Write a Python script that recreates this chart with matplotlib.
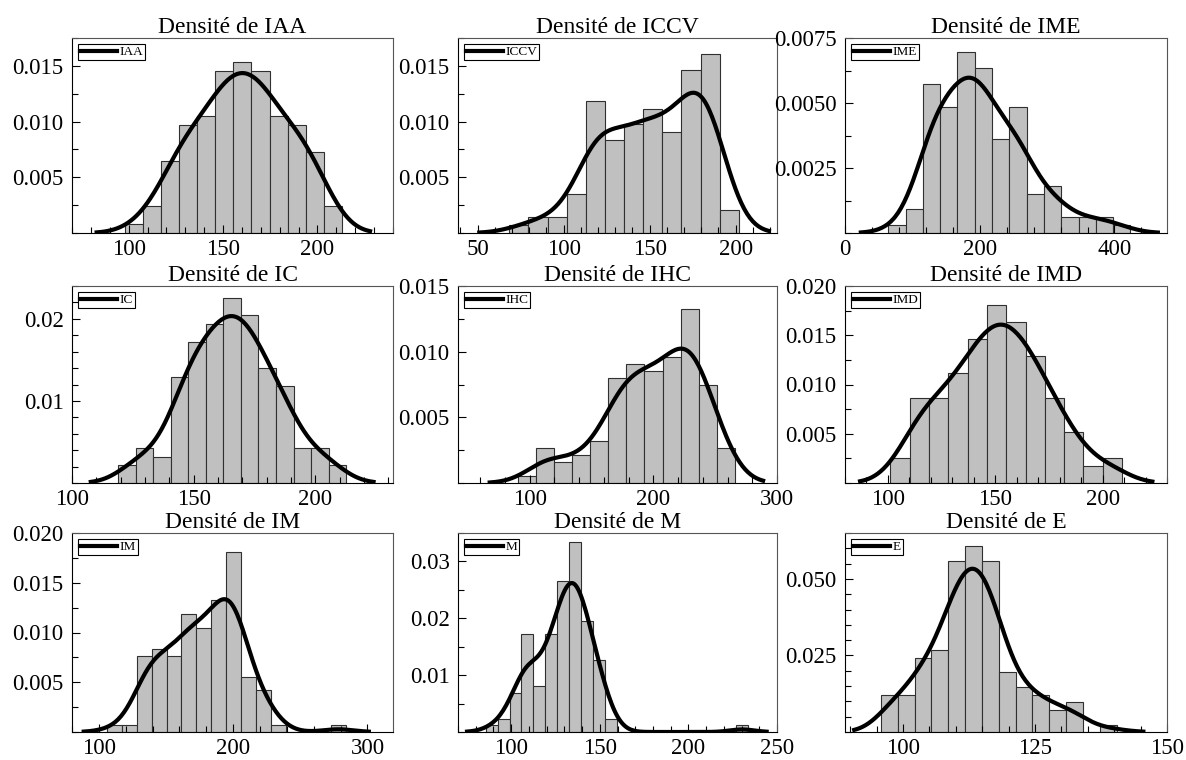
import numpy as np
import matplotlib
matplotlib.use('Agg')
import matplotlib.pyplot as plt
from matplotlib.ticker import MultipleLocator, FixedLocator
import seaborn as sns

plt.rcParams['font.family'] = ['Liberation Serif', 'DejaVu Serif']

# variables (ordre des panneaux)
names = ['IAA', 'ICCV', 'IME', 'IC', 'IHC', 'IMD', 'IM', 'M', 'E']

counts_IAA = [1, 3, 8, 12, 13, 18, 19, 18, 13, 12, 9, 3]
counts_ICCV = [1, 2, 2, 5, 17, 12, 14, 16, 13, 21, 23, 3]
counts_IME = [1, 3, 19, 16, 23, 21, 12, 16, 5, 6, 2, 2, 2, 1]
counts_IC = [2, 4, 3, 12, 16, 18, 21, 19, 13, 11, 4, 4, 2]
counts_IHC = [1, 5, 3, 4, 6, 15, 17, 16, 18, 25, 14, 5]
counts_IMD = [3, 10, 10, 13, 17, 21, 19, 15, 10, 6, 2, 3]
counts_IM = [1, 1, 11, 12, 11, 17, 15, 19, 26, 8, 6, 1, 0, 0, 0, 1]
counts_M = [1, 2, 6, 15, 7, 15, 23, 29, 17, 11, 2,
            0, 0, 0, 0, 0, 0, 0, 0, 0, 0, 1]
counts_E = [5, 5, 10, 11, 23, 25, 23, 8, 6, 5, 3, 4, 0, 1]
counts = [counts_IAA, counts_ICCV, counts_IME, counts_IC, counts_IHC,
          counts_IMD, counts_IM, counts_M, counts_E]

# début de la première classe et largeur des classes
bin_start = [98.0, 68.4, 64.2, 119.0, 90.6, 101.1, 105.9, 85.6, 95.8]
bin_width = [9.575, 11.12, 25.68, 7.21, 14.6, 9.0, 11.12, 6.73, 3.19]

# axes
xlims = [(70, 240), (38.6, 224), (0, 478), (100, 232), (42, 300),
         (80, 230), (80, 319), (70, 250), (89, 150)]
ytops = [0.0175, 0.0175, 0.0075, 0.024, 0.015, 0.020, 0.020, 0.035, 0.065]
x_major = [50, 50, 200, 50, 100, 50, 100, 50, 25]
y_major = [0.005, 0.005, 0.0025, 0.01, 0.005, 0.005, 0.005, 0.01, 0.025]
y_minor = [0.0025, 0.0025, 0.00125, 0.002, 0.0025, 0.0025, 0.0025, 0.005, 0.005]

# position des axes en pixels
W, H = 1186, 760
col_left = [72, 458, 845]
col_right = [393, 777, 1167]
row_top = [38, 286, 533]
row_bottom = [233, 483, 732]

fig = plt.figure(figsize=(W / 100, H / 100), dpi=100)

for k, name in enumerate(names):
    r, c = divmod(k, 3)
    l, rr = col_left[c], col_right[c]
    t, b = row_top[r], row_bottom[r]
    ax = fig.add_axes([l / W, 1 - b / H, (rr - l) / W, (b - t) / H])

    cnt = np.array(counts[k])
    edges = bin_start[k] + bin_width[k] * np.arange(len(cnt) + 1)
    centres = (edges[:-1] + edges[1:]) / 2
    sample = np.repeat(centres, cnt)

    ax.hist(sample, bins=edges, density=True, color='#c0c0c0',
            edgecolor='#303030', linewidth=0.8)
    sns.kdeplot(x=sample, ax=ax, color='k', linewidth=3, cut=2.0,
                bw_adjust=1.08, label=name)

    ax.set_xlabel('')
    ax.set_ylabel('')
    ax.set_xlim(*xlims[k])
    ax.set_ylim(0, ytops[k])
    ax.set_title('Densité de ' + name, fontsize=17, pad=2)

    ax.xaxis.set_major_locator(MultipleLocator(x_major[k]))
    ax.xaxis.set_minor_locator(MultipleLocator(x_major[k] / 5))
    yt = np.arange(y_major[k], ytops[k] + 1e-9, y_major[k])
    ax.yaxis.set_major_locator(FixedLocator(yt))
    ax.yaxis.set_minor_locator(MultipleLocator(y_minor[k]))
    ax.tick_params(which='both', direction='in', top=False, right=False,
                   labelsize=16.5, width=0.8)
    ax.tick_params(which='major', length=6)
    ax.tick_params(which='minor', length=4)
    ax.tick_params(axis='y', pad=6)
    ax.tick_params(axis='x', pad=4)

    for side in ['left', 'bottom']:
        ax.spines[side].set_color('black')
    for side in ['top', 'right']:
        ax.spines[side].set_color('#555555')

    leg = ax.legend(loc='upper left', fontsize=9.5, handlelength=2.8,
                    handletextpad=0.2, borderpad=0.15, borderaxespad=0.45,
                    fancybox=False, edgecolor='black', framealpha=1)
    leg.get_frame().set_linewidth(0.8)

fig.savefig('out.png', dpi=100)
